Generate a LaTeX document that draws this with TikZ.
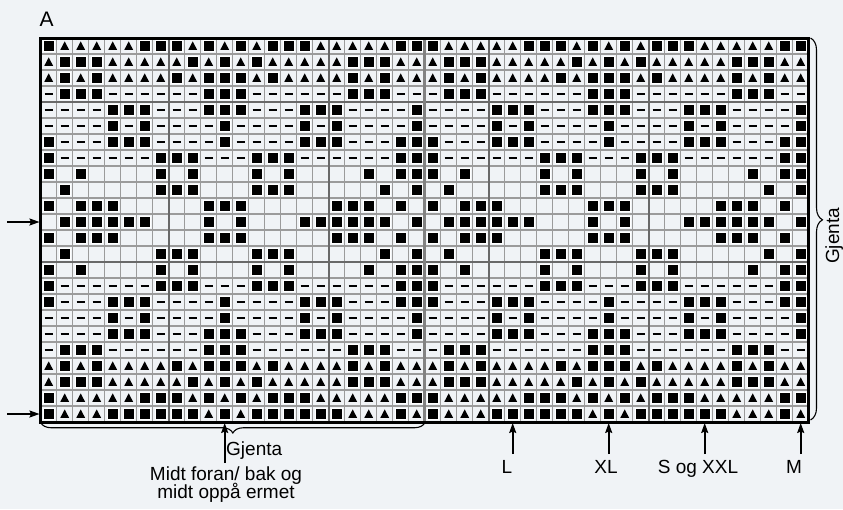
\documentclass[tikz,border=0pt]{standalone}
\usepackage{fontspec}
\setmainfont{Liberation Sans}
\usetikzlibrary{arrows.meta, positioning, decorations.pathreplacing, calc}
\definecolor{chartbg}{RGB}{240, 243, 246}
\definecolor{cellgray}{RGB}{155, 155, 155}
\definecolor{tengray}{RGB}{105, 105, 105}
\definecolor{splitgray}{RGB}{130, 130, 130}
\tikzset{
  lbl/.style={font=\fontsize{19}{17}\selectfont, inner sep=0pt},
  arrow/.style={-{Stealth[length=10pt, width=7pt, inset=1.5pt]}, line width=1.6pt, color=black},
  bracestroke/.style={line width=1.1pt, color=black},
  cellline/.style={cellgray, line width=1.4pt},
  tenline/.style={tengray, line width=1.8pt},
  splitline/.style={splitgray, line width=3.2pt},
}
\newcommand{\stB}[2]{\filldraw[fill=black, draw=white, line width=0.9pt] (#1-5.6,#2-5.6) rectangle (#1+5.6,#2+5.6);}
\newcommand{\stT}[2]{\fill[black] (#1-4.4,#2+3.8) -- (#1+4.4,#2+3.8) -- (#1,#2-4.6) -- cycle;}
\newcommand{\stD}[2]{\draw[black, line width=1.3pt] (#1-4,#2) -- (#1+4,#2);}
\newcommand{\stO}[2]{}

\begin{document}
\begin{tikzpicture}[x=1pt, y=-1pt]
  \useasboundingbox (0,0) rectangle (843,509);
  \fill[chartbg] (0,0) rectangle (843,509);
  \coordinate (gridNW) at (40.7,38);
  \coordinate (gridSE) at (808.7,422);
  \foreach \i in {1,...,47} \draw[cellline] (40.7+16*\i,38) -- ++(0,384);
  \foreach \j in {1,...,23} \draw[cellline] (40.7,38+16*\j) -- ++(768,0);
  \foreach \i in {8,18,28,38} \draw[tenline] (40.7+16*\i,38) -- ++(0,384);
  \foreach \j in {4,14} \draw[tenline] (40.7,38+16*\j) -- ++(768,0);
  \foreach \r/\row in {
     1/{B,T,T,T,T,T,B,B,B,T,B,T,B,T,B,B,B,T,T,T,T,T,B,B},
     2/{T,B,B,B,T,T,T,T,T,B,T,B,T,B,T,T,T,T,T,B,B,B,T,T},
     3/{T,B,T,B,T,T,T,T,B,T,B,B,B,T,B,T,T,T,T,B,T,B,T,T},
     4/{D,B,B,B,D,D,D,D,D,D,B,B,B,D,D,D,D,D,D,B,B,B,D,D},
     5/{D,D,D,D,B,B,B,D,D,D,B,B,B,D,D,D,B,B,B,D,D,D,D,B},
     6/{D,D,D,D,B,D,B,D,D,D,D,B,D,D,D,D,B,D,B,D,D,D,D,B},
     7/{B,D,D,D,B,B,B,D,D,D,D,B,D,D,D,D,B,B,B,D,D,D,B,B},
     8/{B,D,D,D,D,D,D,B,B,B,D,D,D,B,B,B,D,D,D,D,D,D,B,B},
     9/{B,O,B,O,O,O,O,B,O,B,O,O,O,B,O,B,O,O,O,O,B,O,B,B},
    10/{O,B,O,O,O,O,O,B,B,B,O,O,O,B,B,B,O,O,O,O,O,B,O,B},
    11/{B,O,B,B,B,O,O,O,O,O,B,B,B,O,O,O,O,O,B,B,B,O,B,O},
    12/{O,B,B,B,B,B,B,O,O,O,B,O,B,O,O,O,B,B,B,B,B,B,O,B},
    13/{B,O,B,B,B,O,O,O,O,O,B,B,B,O,O,O,O,O,B,B,B,O,B,O},
    14/{O,B,O,O,O,O,O,B,B,B,O,O,O,B,B,B,O,O,O,O,O,B,O,B},
    15/{B,O,B,O,O,O,O,B,O,B,O,O,O,B,O,B,O,O,O,O,B,O,B,B},
    16/{B,D,D,D,D,D,D,B,B,B,D,D,D,B,B,B,D,D,D,D,D,D,B,B},
    17/{B,D,D,D,B,B,B,D,D,D,D,B,D,D,D,D,B,B,B,D,D,D,B,B},
    18/{D,D,D,D,B,D,B,D,D,D,D,B,D,D,D,D,B,D,B,D,D,D,D,B},
    19/{D,D,D,D,B,B,B,D,D,D,B,B,B,D,D,D,B,B,B,D,D,D,D,B},
    20/{D,B,B,B,D,D,D,D,D,D,B,B,B,D,D,D,D,D,D,B,B,B,D,D},
    21/{T,B,T,B,T,T,T,T,B,T,B,B,B,T,B,T,T,T,T,B,T,B,T,T},
    22/{T,B,B,B,T,T,T,T,T,B,T,B,T,B,T,T,T,T,T,B,B,B,T,T},
    23/{B,T,T,T,T,T,B,B,B,T,B,T,B,T,B,B,B,T,T,T,T,T,B,B},
    24/{B,T,T,T,B,B,B,B,B,B,T,B,T,B,B,B,B,B,B,T,T,T,B,T}}{
    \foreach \h in {0,24}{
      \foreach \s [count=\c] in \row {
        \pgfmathsetmacro{\cx}{40.7+16*(\c+\h-0.5)}
        \pgfmathsetmacro{\cy}{38+16*(\r-0.5)}
        \csname st\s\endcsname{\cx}{\cy}
      }
    }
  }
  \draw[splitline] (40.7+384,38) -- ++(0,384);
  \draw[line width=3pt] (gridNW) rectangle (gridSE);

  \node[lbl, font=\fontsize{21}{21}\selectfont, anchor=base west] (chartname) at (39.5,26.5) {A};

  \coordinate (rowtwelve) at (7,222);
  \coordinate (rowtwelvetip) at (39.5,222);
  \coordinate (rowlast) at (7,414);
  \coordinate (rowlasttip) at (39.5,414);
  \draw[arrow] (rowtwelve) -- (rowtwelvetip);
  \draw[arrow] (rowlast) -- (rowlasttip);

  \draw[bracestroke, decorate, decoration={brace, amplitude=12pt, aspect=0.476}] (810.5,38) -- (810.5,420);
  \node[lbl, rotate=90, anchor=base] (repeattall) at (839,236) {Gjenta};

  \draw[bracestroke, decorate, decoration={brace, amplitude=10.5pt, aspect=0.5}] (425,422.5) -- (40.7,422.5);
  \coordinate (colmid) at (224.7,423);
  \node[lbl, anchor=base west] (repeatwide) at (226,455) {Gjenta};
  \node[lbl, align=center, anchor=north] (midtlabel) at (226,467) {Midt foran/ bak og\\[-3pt]midt oppå ermet};
  \draw[arrow] ($(colmid |- midtlabel.north)+(0,-4)$) -- (colmid);

  \foreach \name/\col/\lx/\txt in {L/30/507/L, XL/36/606/XL, SXXL/42/698/S og XXL, M/48/794/M}{
    \node[lbl, anchor=base] (size\name) at (\lx,473.5) {\txt};
    \coordinate (col\name) at (40.7+16*\col-8,423);
    \draw[arrow] ($(col\name |- size\name.north)+(0,-6)$) -- (col\name);
  }
\end{tikzpicture}
\end{document}
